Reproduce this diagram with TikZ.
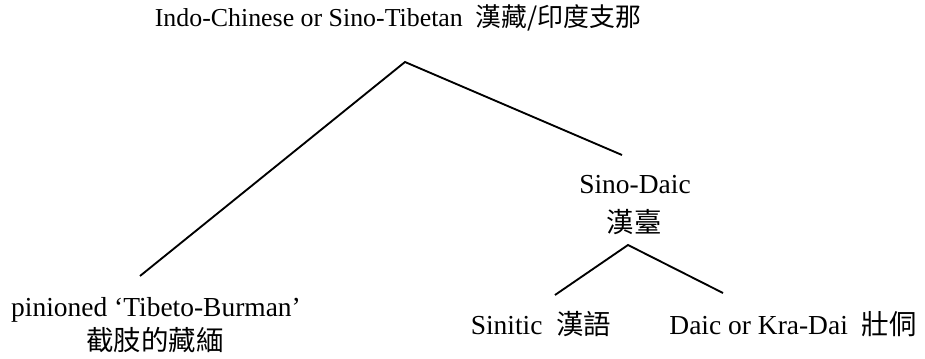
\documentclass[tikz,border=0pt]{standalone}
\usepackage{fontspec}
\setmainfont{Liberation Serif}
\newfontfamily\cjk{Noto Sans CJK TC}
\tikzset{lang/.style={font=\fontsize{20.6}{24}\selectfont, inner sep=0pt, align=center},
  toplang/.style={lang, font=\fontsize{19.4}{22}\selectfont},
  branch/.style={line width=1.4pt}}
\begin{document}
\begin{tikzpicture}[x=0.75pt,y=0.75pt,yscale=-1,xscale=1]
\useasboundingbox (0,0) rectangle (925,359);

% Text Node
\node[toplang] (st) at (398,18) {Indo-Chinese or Sino-Tibetan\ \ {\cjk 漢藏/印度支那}};
% Text Node
\node[lang] (sd) at (635,185) {Sino-Daic};
\node[lang] (sdc) at (634,222) {\cjk 漢臺};
% Text Node
\node[lang] (tb) at (156,310) {pinioned ‘Tibeto-Burman’};
\node[lang] (tbc) at (155,340) {\cjk 截肢的藏緬};
% Text Node
\node[lang] (sin) at (541,324) {Sinitic\ \ {\cjk 漢語}};
% Text Node
\node[lang] (dai) at (793,324) {Daic or Kra-Dai\ \ {\cjk 壯侗}};

%Straight Lines
\coordinate (top) at (405,62);
\coordinate (tbend) at (140,276);
\coordinate (sdend) at (622,155);
\draw[branch] (tbend) -- (top) -- (sdend);
%Straight Lines
\coordinate (sub) at (628,245);
\coordinate (sinend) at (555,295);
\coordinate (daiend) at (723,293);
\draw[branch] (sinend) -- (sub) -- (daiend);

\end{tikzpicture}
\end{document}
